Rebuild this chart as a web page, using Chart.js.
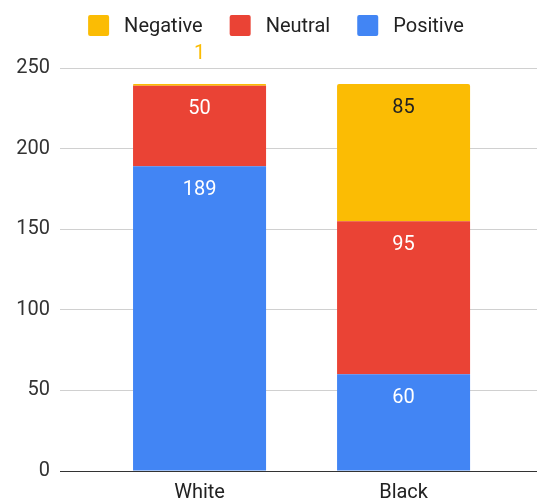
<!DOCTYPE html>
<html>
<head>
<meta charset="utf-8">
<title>Sentiment by group</title>
<script src="https://cdn.jsdelivr.net/npm/chart.js@4.4.1/dist/chart.umd.min.js"></script>
<style>
  html, body { margin: 0; padding: 0; background: #fff; overflow: hidden; }
  canvas { display: block; }
</style>
</head>
<body>
<canvas id="chart" width="537" height="503"></canvas>
<script>
// Categories and stacked series values
const categories = ['White', 'Black'];
const positive = [189, 60];
const neutral = [50, 95];
const negative = [1, 85];
const yTicks = [0, 50, 100, 150, 200, 250];

// Horizontal range of the category axis (bar centres sit at 0 and 1)
const X_MIN = -0.684;
const X_MAX = 1.654;

const FONT = 'Roboto';
const COLORS = { positive: '#4285f4', neutral: '#ea4335', negative: '#fbbc04' };

const toPoints = values => values.map((v, i) => ({ x: i, y: v }));

// Value labels drawn on each bar segment
const valueLabels = {
  id: 'valueLabels',
  afterDatasetsDraw(chart) {
    const ctx = chart.ctx;
    ctx.save();
    ctx.font = '20px ' + FONT;
    ctx.textAlign = 'center';
    ctx.textBaseline = 'middle';
    chart.data.datasets.forEach((ds, di) => {
      const meta = chart.getDatasetMeta(di);
      meta.data.forEach((bar, i) => {
        const v = ds.data[i].y;
        const { x, y, base } = bar.getProps(['x', 'y', 'base'], true);
        const h = base - y;
        if (h >= 24) {
          ctx.fillStyle = ds.labelColor;
          ctx.fillText(String(v), x, y + 23.5);
        } else {
          ctx.fillStyle = ds.backgroundColor;
          ctx.fillText(String(v), x, y - 30);
        }
      });
    });
    ctx.restore();
  }
};

// Legend row across the top, listed from the top of the stack down
const topLegend = {
  id: 'topLegend',
  afterDraw(chart) {
    const ctx = chart.ctx;
    const box = 21, gapText = 15, gapItem = 27, cy = 25.5, centre = 276;
    ctx.save();
    ctx.font = '20px ' + FONT;
    const items = chart.data.datasets.slice().reverse();
    const widths = items.map(d => box + gapText + ctx.measureText(d.label).width);
    const total = widths.reduce((a, b) => a + b, 0) + gapItem * (items.length - 1);
    let x = centre - total / 2;
    items.forEach((d, i) => {
      ctx.fillStyle = d.backgroundColor;
      ctx.beginPath();
      if (ctx.roundRect) ctx.roundRect(x, cy - box / 2, box, box, 2);
      else ctx.rect(x, cy - box / 2, box, box);
      ctx.fill();
      ctx.fillStyle = '#222';
      ctx.textBaseline = 'middle';
      ctx.textAlign = 'left';
      ctx.fillText(d.label, x + box + gapText, cy + 1);
      x += widths[i] + gapItem;
    });
    ctx.restore();
  }
};

new Chart(document.getElementById('chart'), {
  type: 'bar',
  data: {
    datasets: [
      { label: 'Positive', data: toPoints(positive), backgroundColor: COLORS.positive, labelColor: '#ffffff' },
      { label: 'Neutral', data: toPoints(neutral), backgroundColor: COLORS.neutral, labelColor: '#ffffff' },
      { label: 'Negative', data: toPoints(negative), backgroundColor: COLORS.negative, labelColor: '#222222' }
    ]
  },
  options: {
    responsive: false,
    animation: false,
    layout: { padding: { top: 68, left: 0, right: 0, bottom: 0 } },
    datasets: {
      bar: {
        categoryPercentage: 1,
        barPercentage: 0.652,
        borderRadius: 2,
        borderSkipped: 'start'
      }
    },
    plugins: {
      legend: { display: false },
      tooltip: { enabled: false }
    },
    scales: {
      x: {
        type: 'linear',
        stacked: true,
        bounds: 'data',
        min: X_MIN,
        max: X_MAX,
        offset: false,
        z: 1,
        afterBuildTicks: s => { s.ticks = categories.map((_, i) => ({ value: i })); },
        afterFit: s => { s.height = 32; },
        ticks: {
          autoSkip: false,
          maxRotation: 0,
          padding: 10,
          color: '#222',
          font: { family: FONT, size: 20 },
          callback: v => categories[v]
        },
        grid: { display: false, drawTicks: false },
        border: { display: true, color: '#333', width: 1 }
      },
      y: {
        stacked: true,
        min: 0,
        max: 250,
        afterBuildTicks: s => { s.ticks = yTicks.map(v => ({ value: v })); },
        afterFit: s => { s.width = 60; },
        ticks: {
          padding: 10,
          color: '#333',
          font: { family: FONT, size: 20 }
        },
        grid: { drawTicks: false, color: '#d0d0d0', lineWidth: 1 },
        border: { display: false }
      }
    }
  },
  plugins: [valueLabels, topLegend]
});
</script>
</body>
</html>
